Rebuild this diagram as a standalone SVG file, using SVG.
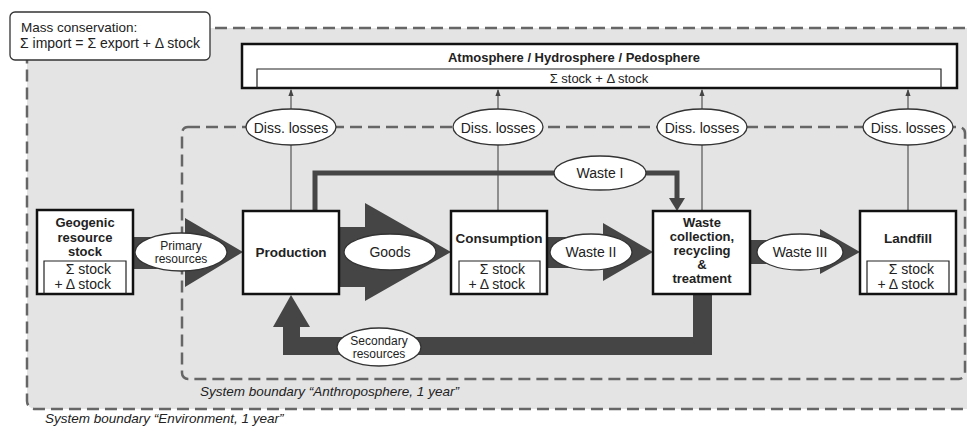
<svg xmlns="http://www.w3.org/2000/svg" width="967" height="426" viewBox="0 0 967 426">
<defs>
<style>
text{font-family:"Liberation Sans",Arial,sans-serif;fill:#222}
.b{font-weight:bold;font-size:13.5px}
.b13{font-weight:bold;font-size:13px}
.n{font-size:14px}
.s{font-size:14px}
.sm{font-size:12px}
.it{font-style:italic;font-size:13.5px}
.bound{fill:none;stroke:#666;stroke-width:2.5;stroke-dasharray:12,6}
.node{fill:#fff;stroke:#111;stroke-width:2.5}
.inner{fill:none;stroke:#222;stroke-width:1.2}
.ell{fill:#fff;stroke:#333;stroke-width:1.3}
.flow{fill:#454545}
.thin{stroke:#555;stroke-width:1.2;fill:none}
</style>
<marker id="ah" viewBox="0 0 8 8" refX="7" refY="4" markerWidth="6" markerHeight="6" orient="auto"><path d="M0,1 L8,4 L0,7 z" fill="#444"/></marker>
</defs>
<rect x="0" y="0" width="967" height="426" fill="#fff"/>
<g id="env-boundary">
<rect x="27" y="28" width="960" height="381" rx="8" fill="#e4e4e4" stroke="none"/>
<rect x="27" y="28" width="960" height="381" rx="8" class="bound"/>
<text x="45" y="423" class="it">System boundary “Environment, 1 year”</text>
</g>
<g id="anthro-boundary">
<rect x="182" y="127" width="783" height="252" rx="6" class="bound"/>
<text x="200" y="396" class="it">System boundary “Anthroposphere, 1 year”</text>
</g>
<g id="legend">
<rect x="10" y="12" width="200" height="48" rx="5" fill="#fff" stroke="#333" stroke-width="1.3"/>
<text x="21" y="32" style="font-size:13.5px">Mass conservation:</text>
<text x="20" y="48" style="font-size:14px">Σ import = Σ export + Δ stock</text>
</g>
<g id="connectors">
<line x1="291" y1="109" x2="291" y2="90" class="thin" marker-end="url(#ah)"/>
<line x1="498" y1="109" x2="498" y2="90" class="thin" marker-end="url(#ah)"/>
<line x1="702" y1="109" x2="702" y2="90" class="thin" marker-end="url(#ah)"/>
<line x1="908" y1="109" x2="908" y2="90" class="thin" marker-end="url(#ah)"/>
<line x1="291" y1="145" x2="291" y2="211" class="thin"/>
<line x1="498" y1="145" x2="498" y2="211" class="thin"/>
<line x1="702" y1="145" x2="702" y2="211" class="thin"/>
<line x1="908" y1="145" x2="908" y2="211" class="thin"/>
<polygon class="flow" points="133,237 185,237 185,218 243,252 185,287 185,269 133,269"/>
<polygon class="flow" points="339,227 365,227 365,203 451,252 365,301 365,287 339,287"/>
<polygon class="flow" points="547,237 603,237 603,223 653,252 603,281 603,268 547,268"/>
<polygon class="flow" points="750,240 820,240 820,229 860,252 820,274 820,264 750,264"/>
<polyline points="315,211 315,173 677,173 677,199" fill="none" stroke="#454545" stroke-width="5"/>
<polygon class="flow" points="669,198 685,198 677,211"/>
<polygon class="flow" points="712,294 712,355 283,355 283,327 273,327 291,295 310,327 300,327 300,337 693,337 693,294"/>
</g>
<g id="atmosphere">
<rect x="242" y="44" width="715" height="44" fill="#fff" stroke="#111" stroke-width="2.5"/>
<path d="M257,88 V69 H941 V88" class="inner"/>
<text x="574" y="62" class="b13" text-anchor="middle">Atmosphere / Hydrosphere / Pedosphere</text>
<text x="599" y="83" text-anchor="middle" style="font-size:13px">Σ stock + Δ stock</text>
</g>
<g id="diss1"><ellipse cx="291" cy="127" rx="45" ry="18" class="ell"/><text x="291" y="133" class="n" text-anchor="middle">Diss. losses</text></g>
<g id="diss2"><ellipse cx="498" cy="127" rx="45" ry="18" class="ell"/><text x="498" y="133" class="n" text-anchor="middle">Diss. losses</text></g>
<g id="diss3"><ellipse cx="702" cy="127" rx="45" ry="18" class="ell"/><text x="702" y="133" class="n" text-anchor="middle">Diss. losses</text></g>
<g id="diss4"><ellipse cx="908" cy="127" rx="45" ry="18" class="ell"/><text x="908" y="133" class="n" text-anchor="middle">Diss. losses</text></g>
<g id="geogenic">
<rect x="37" y="210" width="96" height="84" class="node"/>
<path d="M44,294 V261 H126 V294" class="inner"/>
<text x="85" y="227" class="b13" text-anchor="middle">Geogenic</text>
<text x="85" y="242" class="b13" text-anchor="middle">resource</text>
<text x="85" y="256" class="b13" text-anchor="middle">stock</text>
<text x="111" y="274" class="s" text-anchor="end">Σ stock</text>
<text x="111" y="289" class="s" text-anchor="end">+ Δ stock</text>
</g>
<g id="production">
<rect x="243" y="211" width="96" height="83" class="node"/>
<text x="291" y="257" class="b" text-anchor="middle">Production</text>
</g>
<g id="consumption">
<rect x="451" y="211" width="96" height="83" class="node"/>
<path d="M459,294 V261 H540 V294" class="inner"/>
<text x="499" y="243" class="b" text-anchor="middle">Consumption</text>
<text x="525" y="274" class="s" text-anchor="end">Σ stock</text>
<text x="525" y="289" class="s" text-anchor="end">+ Δ stock</text>
</g>
<g id="waste-collection">
<rect x="653" y="211" width="97" height="83" class="node"/>
<text x="702" y="227" class="b13" text-anchor="middle">Waste</text>
<text x="702" y="241" class="b13" text-anchor="middle">collection,</text>
<text x="702" y="255" class="b13" text-anchor="middle">recycling</text>
<text x="702" y="269" class="b13" text-anchor="middle">&amp;</text>
<text x="702" y="283" class="b13" text-anchor="middle">treatment</text>
</g>
<g id="landfill">
<rect x="860" y="211" width="96" height="83" class="node"/>
<path d="M867,294 V261 H949 V294" class="inner"/>
<text x="908" y="243" class="b" text-anchor="middle">Landfill</text>
<text x="934" y="274" class="s" text-anchor="end">Σ stock</text>
<text x="934" y="289" class="s" text-anchor="end">+ Δ stock</text>
</g>
<g id="lbl-primary"><ellipse cx="181" cy="252" rx="46" ry="19" class="ell"/><text x="181" y="250" class="sm" text-anchor="middle">Primary</text><text x="181" y="263" class="sm" text-anchor="middle">resources</text></g>
<g id="lbl-goods"><ellipse cx="390" cy="252" rx="46" ry="18" class="ell"/><text x="390" y="257" class="n" text-anchor="middle">Goods</text></g>
<g id="lbl-waste2"><ellipse cx="591" cy="252" rx="41" ry="18" class="ell"/><text x="591" y="257" class="n" text-anchor="middle">Waste II</text></g>
<g id="lbl-waste3"><ellipse cx="800" cy="252" rx="43" ry="18" class="ell"/><text x="800" y="257" class="n" text-anchor="middle">Waste III</text></g>
<g id="lbl-waste1"><ellipse cx="600" cy="173" rx="46" ry="17" class="ell"/><text x="600" y="178" class="n" text-anchor="middle">Waste I</text></g>
<g id="lbl-secondary"><ellipse cx="379" cy="347" rx="42" ry="19" class="ell"/><text x="379" y="345" class="sm" text-anchor="middle">Secondary</text><text x="379" y="358" class="sm" text-anchor="middle">resources</text></g>
</svg>
